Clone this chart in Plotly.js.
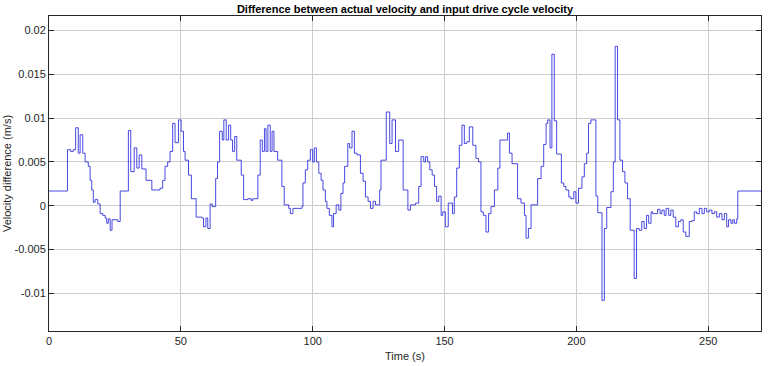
<!DOCTYPE html>
<html>
<head>
<meta charset="utf-8">
<script src="https://cdn.plot.ly/plotly-3.0.1.min.js"></script>
<style>
html,body{margin:0;padding:0;background:#fff;}
#chart{width:771px;height:366px;}
</style>
</head>
<body>
<div id="chart"></div>
<script>
// Step start times (s) and held velocity difference (m/s)
var timeSec = [
0,7.0,8.2,9.2,10.1,11.1,11.8,12.8,13.7,14.9,15.6,16.2,16.8,17.5,18.5,19.4,20.4,21.3,21.9,22.5,23.2,23.9,26.1,27.0,
30.1,31.0,32.3,33.3,34.2,35.2,36.8,39.0,42.1,43.1,44.0,45.0,45.9,46.9,47.8,49.1,50.1,51.0,51.6,52.9,54.0,55.8,
58.0,58.6,59.5,60.2,61.1,61.9,63.2,63.9,64.7,65.7,66.3,67.2,68.1,68.9,69.6,70.4,71.2,72.9,73.8,75.4,76.7,77.3,
79.2,80.1,80.9,81.7,82.3,83.0,83.9,84.6,85.3,86.7,88.3,89.2,90.9,91.5,92.5,95.9,96.3,97.2,98.1,99.1,100.0,100.6,
101.4,102.3,103.2,103.9,104.8,105.4,106.3,107.3,107.9,108.9,109.9,110.7,111.5,112.1,113.3,114.0,114.9,115.8,
116.8,118.1,119.1,120.0,121.0,121.9,122.9,123.8,125.4,125.9,127.9,129.2,130.1,131.4,132.6,134.3,136.1,137.1,
139.0,140.2,141.1,142.1,142.8,143.6,144.4,145.3,146.2,147.0,147.8,148.7,149.3,150.3,151.4,153.0,153.7,154.6,
155.6,156.6,157.5,158.4,159.4,160.7,161.9,162.9,163.8,164.7,165.7,166.7,167.6,168.9,170.2,171.0,173.9,174.6,
175.6,177.7,179.0,180.3,180.9,181.8,182.8,185.3,186.6,187.6,188.5,189.1,190.0,190.7,191.6,192.5,194.3,195.2,
196.0,197.1,197.9,199.0,199.8,200.8,202.1,203.0,203.9,204.6,205.5,207.4,208.1,209.7,210.6,211.5,213.1,214.0,
214.7,215.6,216.5,217.5,218.4,219.4,220.4,221.9,222.8,223.8,224.8,225.7,226.6,227.4,228.3,228.9,230.8,231.7,
232.4,233.3,234.0,235.0,235.8,236.7,237.7,238.7,239.6,240.5,241.5,242.8,243.8,244.7,245.6,246.6,247.6,248.5,
249.4,250.4,251.4,252.3,253.2,254.2,255.2,256.1,257.0,257.7,258.6,259.3,259.9,260.8,261.2,270
];
var velDiff = [
0.00168,0.0064,0.0062,0.0064,0.0089,0.0060,0.0081,0.0060,0.0050,0.0045,0.0029,0.0018,0.0004,0.0007,0.0002,-0.0009,-0.0011,-0.0014,-0.0020,-0.0015,-0.0028,-0.0016,-0.0018,0.00168,
0.0086,0.0039,0.0066,0.0043,0.0058,0.0042,0.0029,0.0018,0.0020,0.0029,0.0045,0.0050,0.0062,0.0094,0.0072,0.0098,0.0085,0.0062,0.0052,0.0035,0.0008,-0.0013,
-0.0014,-0.0024,-0.0014,-0.0026,0.0002,-0.0001,0.0031,0.0050,0.0085,0.0075,0.0098,0.0075,0.0092,0.0075,0.0062,0.0079,0.0052,0.0035,0.0007,0.0008,0.0006,0.0008,
0.0035,0.0075,0.0062,0.0088,0.0062,0.0092,0.0062,0.0085,0.0062,0.0052,0.0022,0.0001,-0.0003,-0.0009,-0.0003,-0.0001,0.0026,0.0041,0.0052,0.0064,0.0050,0.0066,
0.0050,0.0037,0.0029,0.0018,0.0005,-0.0003,-0.0011,-0.0024,-0.0009,0.0001,-0.0005,0.0014,0.0026,0.0045,0.0071,0.0066,0.0085,0.0060,
0.0058,0.0037,0.0028,0.0010,0.0005,-0.0003,0.0005,0.0001,0.0018,0.0052,0.0107,0.0071,0.0098,0.0062,0.0075,0.0018,-0.0005,0.0001,
0.0003,0.0022,0.0056,0.0050,0.0056,0.0050,0.0041,0.0035,0.0022,0.0005,0.0011,-0.0011,-0.0007,-0.0024,0.0003,-0.0009,0.0010,0.0043,
0.0069,0.0092,0.0071,0.0073,0.0090,0.0069,0.0054,0.0050,-0.0007,-0.0011,-0.0030,-0.0009,-0.0001,0.0018,0.0043,0.0075,0.0083,0.0060,
0.0048,0.0008,0.0003,-0.0011,-0.0037,-0.0026,0.0001,0.0031,0.0045,0.0070,0.0094,0.0098,0.0066,0.0173,0.0097,0.0059,0.0026,0.0022,
0.0018,0.0010,0.0008,0.0016,0.0003,0.0020,0.0033,0.0048,0.0060,0.0094,0.0098,0.0011,-0.0008,-0.0108,-0.0026,-0.0002,0.0016,0.0050,
0.0182,0.0098,0.0052,0.0039,0.0026,0.0008,-0.0028,-0.0083,-0.0026,-0.0028,-0.0018,-0.0026,-0.0011,-0.0020,-0.0007,-0.0009,-0.0004,-0.0009,
-0.0005,-0.0011,-0.0003,-0.0011,-0.0005,-0.0013,-0.0024,-0.0018,-0.0016,-0.0030,-0.0035,-0.0018,-0.0017,-0.0007,-0.0009,-0.0003,-0.0009,-0.0003,
-0.0007,-0.0005,-0.0009,-0.0007,-0.0013,-0.0009,-0.0016,-0.0009,-0.0024,-0.0016,-0.0020,-0.0016,-0.0020,-0.0015,0.00168,0.00168
];
var xTickVals = [0, 50, 100, 150, 200, 250];
var yTickVals = [-0.01, -0.005, 0, 0.005, 0.01, 0.015, 0.02];
var yTickText = ["-0.01", "-0.005", "0", "0.005", "0.01", "0.015", "0.02"];

var trace = {
  x: timeSec,
  y: velDiff,
  type: 'scatter',
  mode: 'lines',
  line: {shape: 'hv', color: '#2828dc', width: 0.85},
  hoverinfo: 'x+y'
};

var axisCommon = {
  showline: true, linecolor: '#262626', linewidth: 1, mirror: 'ticks',
  ticks: 'inside', ticklen: 5, tickcolor: '#262626', tickwidth: 1,
  showgrid: true, gridcolor: '#cccccc', gridwidth: 1,
  zeroline: false,
  tickfont: {family: 'Liberation Sans, Arial, sans-serif', size: 11, color: '#262626'}
};

var layout = {
  width: 771, height: 366,
  margin: {l: 49, r: 10, t: 16, b: 35},
  paper_bgcolor: '#ffffff', plot_bgcolor: '#ffffff',
  showlegend: false,
  title: {
    text: '<b>Difference between actual velocity and input drive cycle velocity</b>',
    font: {family: 'Liberation Sans, Arial, sans-serif', size: 11, color: '#000000'},
    x: 0.5, xref: 'paper', xanchor: 'center',
    y: 1, yref: 'paper', yanchor: 'bottom', pad: {b: 3}
  },
  xaxis: Object.assign({}, axisCommon, {
    range: [0, 270],
    tickvals: xTickVals,
    ticktext: xTickVals.map(String),
    title: {text: 'Time (s)', standoff: 6,
      font: {family: 'Liberation Sans, Arial, sans-serif', size: 11, color: '#262626'}}
  }),
  yaxis: Object.assign({}, axisCommon, {
    range: [-0.0143, 0.02166],
    tickvals: yTickVals,
    ticktext: yTickText,
    title: {text: 'Velocity difference (m/s)', standoff: 0,
      font: {family: 'Liberation Sans, Arial, sans-serif', size: 11, color: '#262626'}}
  })
};

Plotly.newPlot('chart', [trace], layout, {displayModeBar: false, staticPlot: true});
</script>
</body>
</html>
